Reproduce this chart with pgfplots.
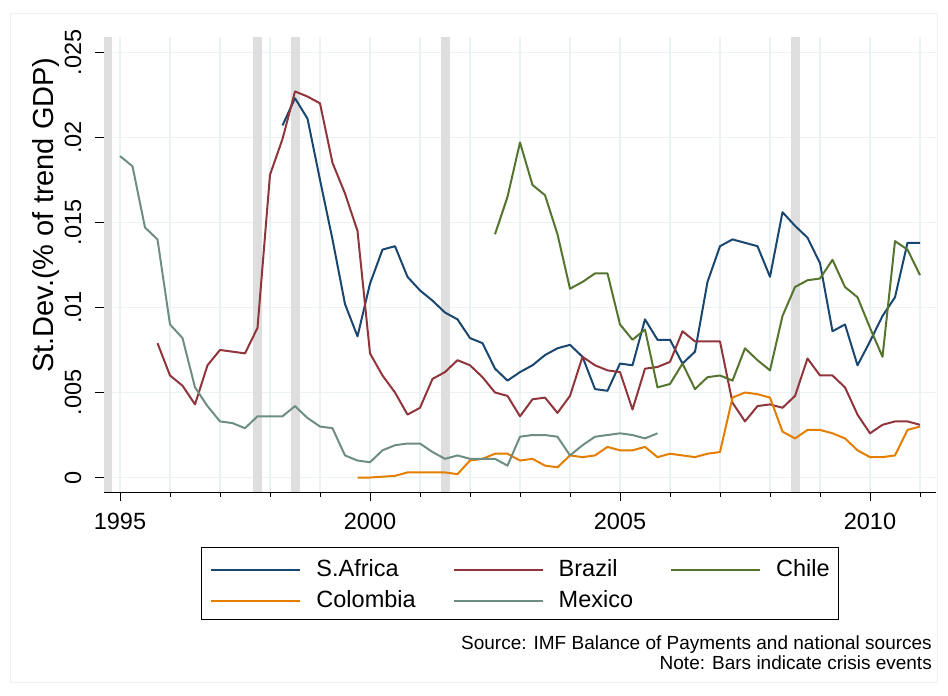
\documentclass[border=0pt]{standalone}
\usepackage{pgfplots}
\pgfplotsset{compat=1.18}
\usepackage{fontspec}
\setmainfont{Liberation Sans}
\definecolor{sanavy}{HTML}{1A476F}
\definecolor{bramaroon}{HTML}{90353B}
\definecolor{chgreen}{HTML}{55752F}
\definecolor{coorange}{HTML}{E37E00}
\definecolor{mxteal}{HTML}{6E8E84}
\definecolor{gridc}{HTML}{EAF2F3}
\definecolor{crisis}{HTML}{DEDEDE}
\begin{document}
\begin{tikzpicture}[x=1pt,y=1pt]
\useasboundingbox (0,0) rectangle (948,696);
\draw[gridc, line width=1pt] (10.5,13.5) rectangle (937.5,682.5);
\begin{axis}[
  scale only axis, width=832pt, height=455pt,
  at={(104pt,204pt)}, anchor=south west,
  xmin=1994.68, xmax=2011.32, ymin=-0.00085, ymax=0.0259,
  axis x line*=bottom, axis y line*=left,
  axis line style={black, line width=0.9pt, -},
  xtick={1995,2000,2005,2010},
  xticklabels={1995,2000,2005,2010},
  minor xtick={1996,1997,1998,1999,2001,2002,2003,2004,2006,2007,2008,2009,2011},
  ytick={0,0.005,0.01,0.015,0.02,0.025},
  yticklabels={0,.005,.01,.015,.02,.025},
  scaled y ticks=false,
  /pgf/number format/assume math mode=true,
  tick align=outside,
  major tick length=9pt, minor tick length=5pt,
  tick style={black, line width=0.9pt},
  grid=both,
  major grid style={gridc, line width=1.6pt},
  minor grid style={gridc, line width=1.6pt},
  tick label style={font=\fontsize{23.5}{28}\selectfont},
  xticklabel style={yshift=-9pt},
  yticklabel style={xshift=-10pt, rotate=90, anchor=south},
  legend columns=3,
  legend style={at={(axis description cs:0.1166,-0.1205)}, anchor=north west,
    draw=black, line width=0.9pt, font=\fontsize{23.5}{28}\selectfont,
    inner xsep=9pt, inner ysep=12pt, row sep=14pt,
    nodes={inner sep=0pt, text height=17pt, text depth=0pt},
    /tikz/every odd column/.append style={column sep=15pt},
    /tikz/every even column/.append style={column sep=37pt},
    /tikz/column 4/.append style={column sep=32pt}},
  legend cell align=left,
  legend image code/.code={\draw[#1] (0pt,-2pt) -- (89pt,-2pt);},
]
% crisis bars
\addplot[draw=none, fill=crisis, forget plot] coordinates {(1994.66,-0.00085) (1994.84,-0.00085) (1994.84,0.0259) (1994.66,0.0259)} -- cycle;
\addplot[draw=none, fill=crisis, forget plot] coordinates {(1997.66,-0.00085) (1997.84,-0.00085) (1997.84,0.0259) (1997.66,0.0259)} -- cycle;
\addplot[draw=none, fill=crisis, forget plot] coordinates {(1998.41,-0.00085) (1998.59,-0.00085) (1998.59,0.0259) (1998.41,0.0259)} -- cycle;
\addplot[draw=none, fill=crisis, forget plot] coordinates {(2001.41,-0.00085) (2001.59,-0.00085) (2001.59,0.0259) (2001.41,0.0259)} -- cycle;
\addplot[draw=none, fill=crisis, forget plot] coordinates {(2008.41,-0.00085) (2008.59,-0.00085) (2008.59,0.0259) (2008.41,0.0259)} -- cycle;
% S.Africa
\addplot[sanavy, line width=2pt, line join=round] coordinates {
(1998.25,.0207) (1998.50,.0223) (1998.75,.0211) (1999.00,.0175) (1999.25,.0140) (1999.50,.0102) (1999.75,.0083)
(2000.00,.0114) (2000.25,.0134) (2000.50,.0136) (2000.75,.0118) (2001.00,.0110) (2001.25,.0104) (2001.50,.0097) (2001.75,.0093)
(2002.00,.0082) (2002.25,.0079) (2002.50,.0064) (2002.75,.0057) (2003.00,.0062) (2003.25,.0066) (2003.50,.0072) (2003.75,.0076)
(2004.00,.0078) (2004.25,.0071) (2004.50,.0052) (2004.75,.0051) (2005.00,.0067) (2005.25,.0066) (2005.50,.0093) (2005.75,.0081)
(2006.00,.0081) (2006.25,.0067) (2006.50,.0074) (2006.75,.0115) (2007.00,.0136) (2007.25,.0140) (2007.50,.0138) (2007.75,.0136)
(2008.00,.0118) (2008.25,.0156) (2008.50,.0148) (2008.75,.0141) (2009.00,.0126) (2009.25,.0086) (2009.50,.0090) (2009.75,.0066)
(2010.00,.0080) (2010.25,.0095) (2010.50,.0106) (2010.75,.0138) (2011.00,.0138)};
\addlegendentry{S.Africa}
% Brazil
\addplot[bramaroon, line width=2pt, line join=round] coordinates {
(1995.75,.0079) (1996.00,.0060) (1996.25,.0054) (1996.50,.0043) (1996.75,.0066) (1997.00,.0075) (1997.25,.0074) (1997.50,.0073) (1997.75,.0088)
(1998.00,.0178) (1998.25,.0199) (1998.50,.0227) (1998.75,.0224) (1999.00,.0220) (1999.25,.0185) (1999.50,.0167) (1999.75,.0145)
(2000.00,.0073) (2000.25,.0060) (2000.50,.0050) (2000.75,.0037) (2001.00,.0041) (2001.25,.0058) (2001.50,.0062) (2001.75,.0069)
(2002.00,.0066) (2002.25,.0059) (2002.50,.0050) (2002.75,.0048) (2003.00,.0036) (2003.25,.0046) (2003.50,.0047) (2003.75,.0038)
(2004.00,.0048) (2004.25,.0071) (2004.50,.0066) (2004.75,.0063) (2005.00,.0062) (2005.25,.0040) (2005.50,.0064) (2005.75,.0065)
(2006.00,.0068) (2006.25,.0086) (2006.50,.0080) (2006.75,.0080) (2007.00,.0080) (2007.25,.0044) (2007.50,.0033) (2007.75,.0042)
(2008.00,.0043) (2008.25,.0041) (2008.50,.0048) (2008.75,.0070) (2009.00,.0060) (2009.25,.0060) (2009.50,.0053) (2009.75,.0037)
(2010.00,.0026) (2010.25,.0031) (2010.50,.0033) (2010.75,.0033) (2011.00,.0031)};
\addlegendentry{Brazil}
% Chile
\addplot[chgreen, line width=2pt, line join=round] coordinates {
(2002.50,.0143) (2002.75,.0165) (2003.00,.0197) (2003.25,.0172) (2003.50,.0166) (2003.75,.0143)
(2004.00,.0111) (2004.25,.0115) (2004.50,.0120) (2004.75,.0120) (2005.00,.0090) (2005.25,.0081) (2005.50,.0087) (2005.75,.0053)
(2006.00,.0055) (2006.25,.0067) (2006.50,.0052) (2006.75,.0059) (2007.00,.0060) (2007.25,.0057) (2007.50,.0076) (2007.75,.0069)
(2008.00,.0063) (2008.25,.0095) (2008.50,.0112) (2008.75,.0116) (2009.00,.0117) (2009.25,.0128) (2009.50,.0112) (2009.75,.0106)
(2010.00,.0088) (2010.25,.0071) (2010.50,.0139) (2010.75,.0134) (2011.00,.0119)};
\addlegendentry{Chile}
% Colombia
\addplot[coorange, line width=2pt, line join=round] coordinates {
(1999.75,.0000) (2000.00,.0000) (2000.25,.00005) (2000.50,.0001) (2000.75,.0003) (2001.00,.0003) (2001.25,.0003) (2001.50,.0003) (2001.75,.0002)
(2002.00,.0010) (2002.25,.0011) (2002.50,.0014) (2002.75,.0014) (2003.00,.0010) (2003.25,.0011) (2003.50,.0007) (2003.75,.0006)
(2004.00,.0013) (2004.25,.0012) (2004.50,.0013) (2004.75,.0018) (2005.00,.0016) (2005.25,.0016) (2005.50,.0018) (2005.75,.0012)
(2006.00,.0014) (2006.25,.0013) (2006.50,.0012) (2006.75,.0014) (2007.00,.0015) (2007.25,.0047) (2007.50,.0050) (2007.75,.0049)
(2008.00,.0047) (2008.25,.0027) (2008.50,.0023) (2008.75,.0028) (2009.00,.0028) (2009.25,.0026) (2009.50,.0023) (2009.75,.0016)
(2010.00,.0012) (2010.25,.0012) (2010.50,.0013) (2010.75,.0028) (2011.00,.0030)};
\addlegendentry{Colombia}
% Mexico
\addplot[mxteal, line width=2pt, line join=round] coordinates {
(1995.00,.0189) (1995.25,.0183) (1995.50,.0147) (1995.75,.0140) (1996.00,.0090) (1996.25,.0082) (1996.50,.0053) (1996.75,.0042)
(1997.00,.0033) (1997.25,.0032) (1997.50,.0029) (1997.75,.0036) (1998.00,.0036) (1998.25,.0036) (1998.50,.0042) (1998.75,.0035)
(1999.00,.0030) (1999.25,.0029) (1999.50,.0013) (1999.75,.0010) (2000.00,.0009) (2000.25,.0016) (2000.50,.0019) (2000.75,.0020)
(2001.00,.0020) (2001.25,.0015) (2001.50,.0011) (2001.75,.0013) (2002.00,.0011) (2002.25,.0011) (2002.50,.0011) (2002.75,.0007)
(2003.00,.0024) (2003.25,.0025) (2003.50,.0025) (2003.75,.0024) (2004.00,.0013) (2004.25,.0019) (2004.50,.0024) (2004.75,.0025)
(2005.00,.0026) (2005.25,.0025) (2005.50,.0023) (2005.75,.0026)};
\addlegendentry{Mexico}
\end{axis}
\node[rotate=90, anchor=center, font=\fontsize{29}{34}\selectfont, inner sep=0pt] at (46,481) {St.Dev.(\% of trend GDP)};
\node[anchor=base east, font=\fontsize{19}{22}\selectfont, inner sep=0pt] at (932,46) {Source: IMF Balance of Payments and national sources};
\node[anchor=base east, font=\fontsize{19}{22}\selectfont, inner sep=0pt] at (932,26) {Note: Bars indicate crisis events};
\end{tikzpicture}
\end{document}
